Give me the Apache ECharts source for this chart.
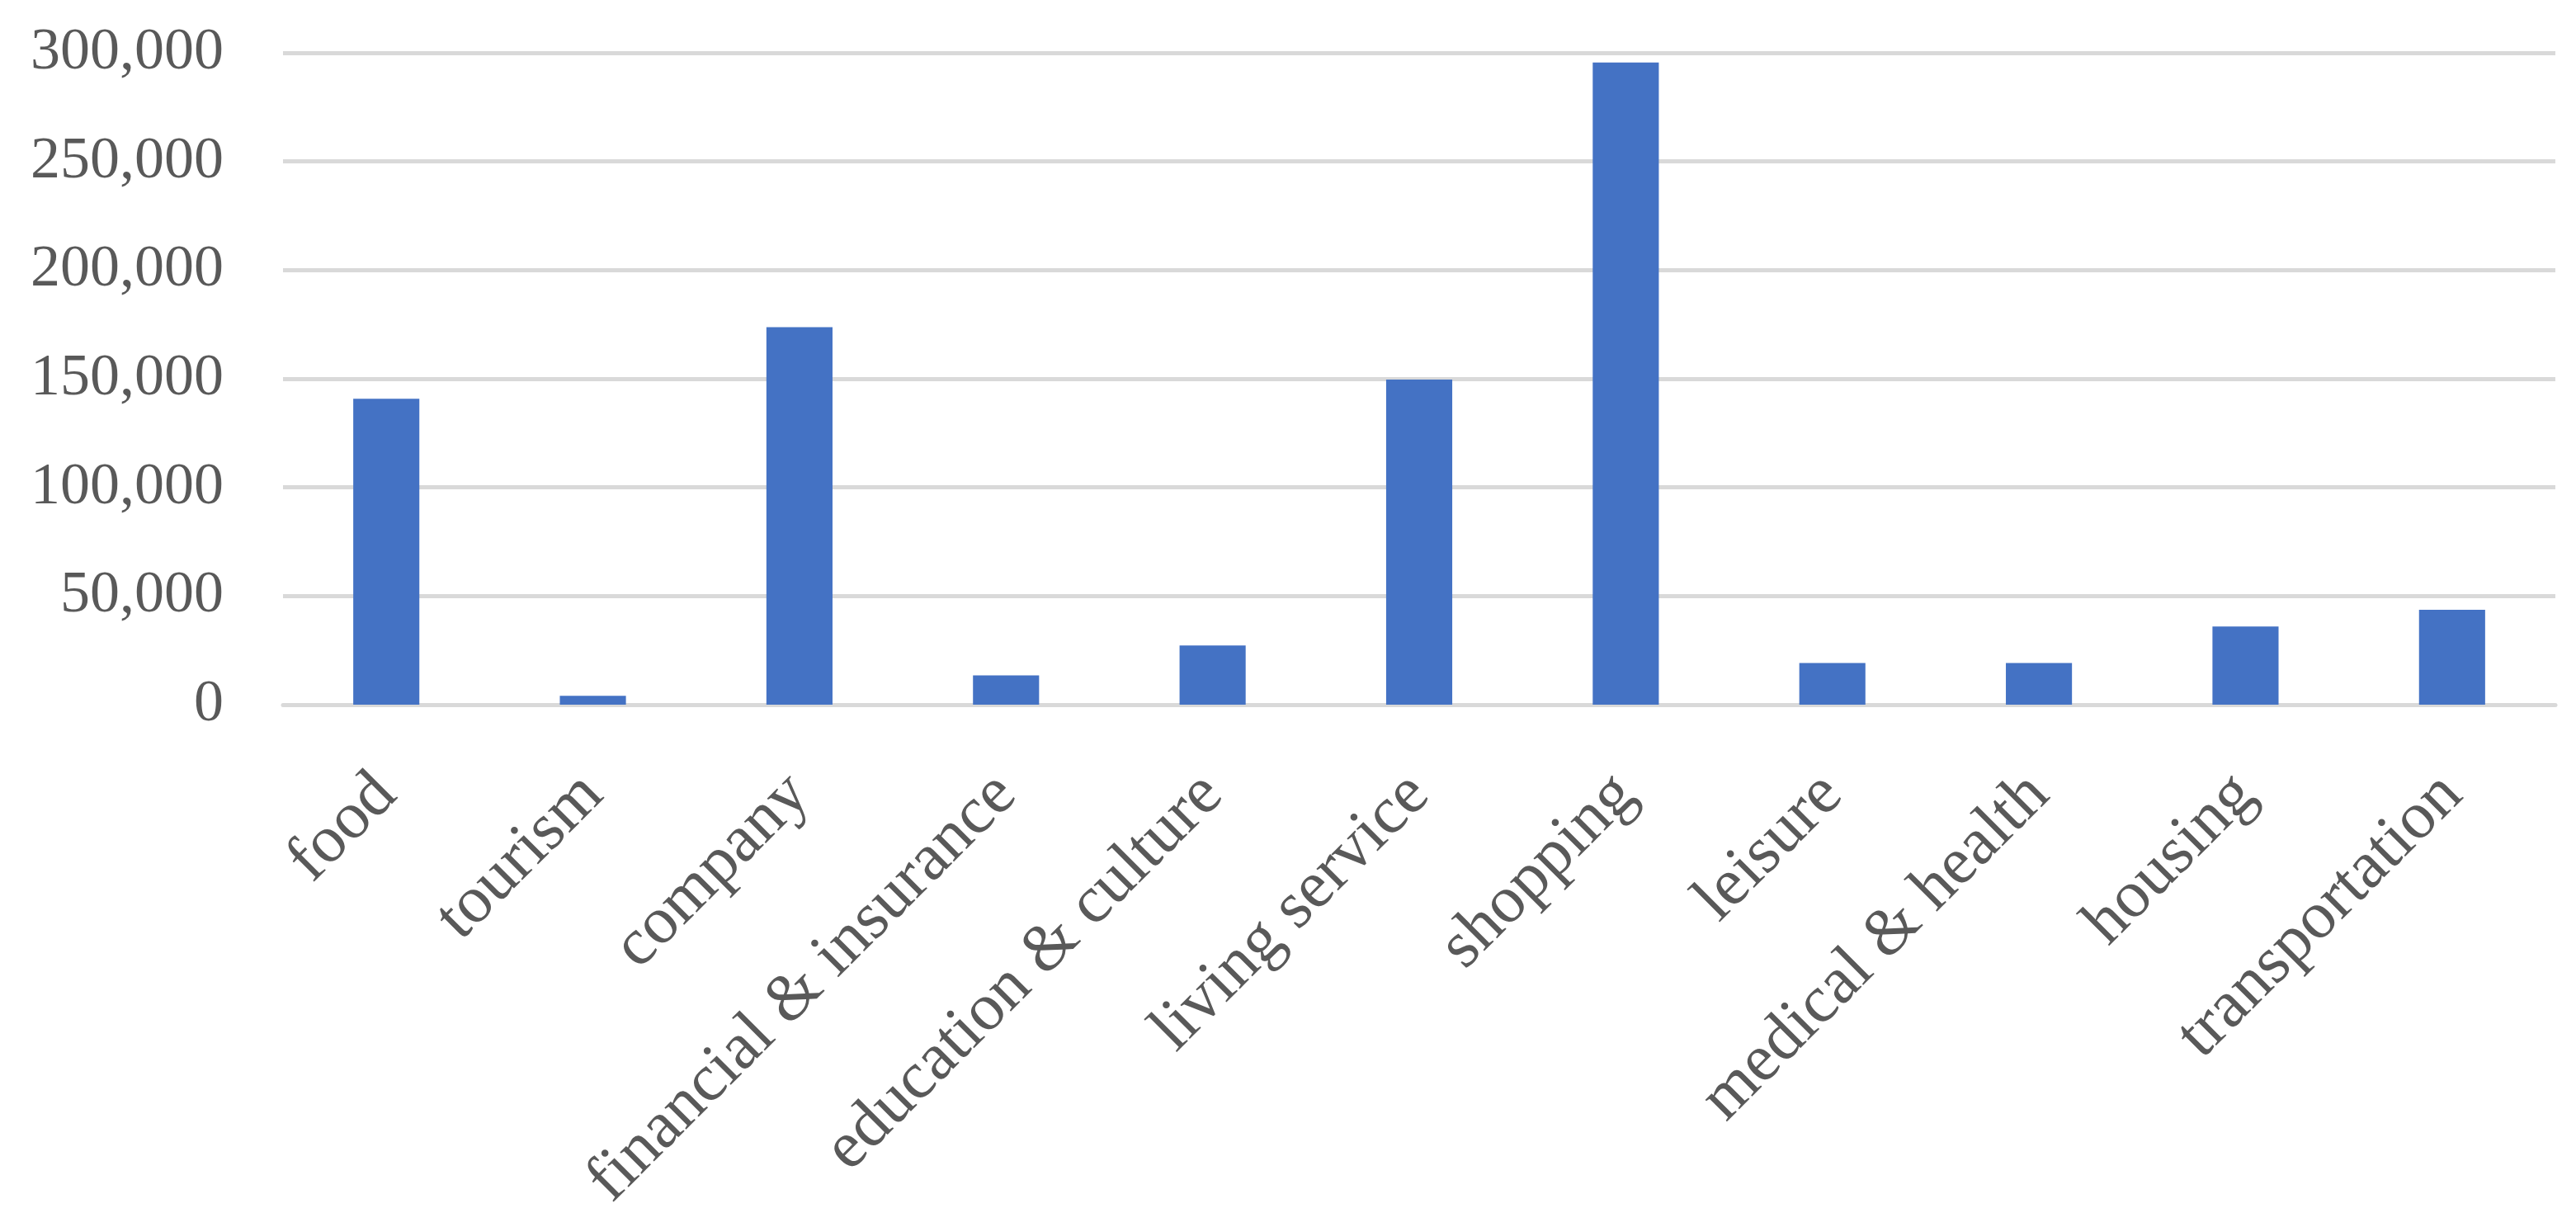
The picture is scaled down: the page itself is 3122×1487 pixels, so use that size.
<!DOCTYPE html>
<html>
<head>
<meta charset="utf-8">
<style>
  html, body { margin: 0; padding: 0; background: #fff; }
  #chart { width: 3122px; height: 1487px; }
</style>
<script src="https://cdn.jsdelivr.net/npm/echarts@6/dist/echarts.min.js"></script>
</head>
<body>
<div id="chart"></div>
<script>
const categories = [
  'food', 'tourism', 'company', 'financial & insurance', 'education & culture',
  'living service', 'shopping', 'leisure', 'medical & health', 'housing', 'transportation'
];
const counts = [140800, 4100, 173700, 13500, 27200, 149600, 295500, 19200, 19200, 36000, 43700];

const yMax = 300000;
const yStep = 50000;

const textColor = '#595959';
const gridColor = '#d9d9d9';
const fontFamily = '"Liberation Serif", "DejaVu Serif", serif';

const chart = echarts.init(document.getElementById('chart'));

const option = {
  backgroundColor: '#ffffff',
  animation: false,
  grid: {
    left: 343,
    right: 25,
    top: 64,
    bottom: 1487 - 854
  },
  xAxis: {
    type: 'category',
    data: categories,
    axisTick: { show: false },
    axisLine: {
      lineStyle: { color: gridColor, width: 5 }
    },
    axisLabel: {
      interval: 0,
      rotate: 45,
      margin: 97,
      padding: [92, 0, 0, 0],
      color: textColor,
      fontFamily: fontFamily,
      fontSize: 81
    }
  },
  yAxis: {
    type: 'value',
    min: 0,
    max: yMax,
    interval: yStep,
    axisLine: { show: false },
    axisTick: { show: false },
    splitLine: {
      lineStyle: { color: gridColor, width: 5 }
    },
    axisLabel: {
      margin: 72,
      color: textColor,
      fontFamily: fontFamily,
      fontSize: 72,
      formatter: v => v.toLocaleString('en-US')
    }
  },
  series: [
    {
      type: 'bar',
      data: counts,
      barWidth: '32%',
      itemStyle: { color: '#4472c4' }
    }
  ]
};

chart.setOption(option);
</script>
</body>
</html>
